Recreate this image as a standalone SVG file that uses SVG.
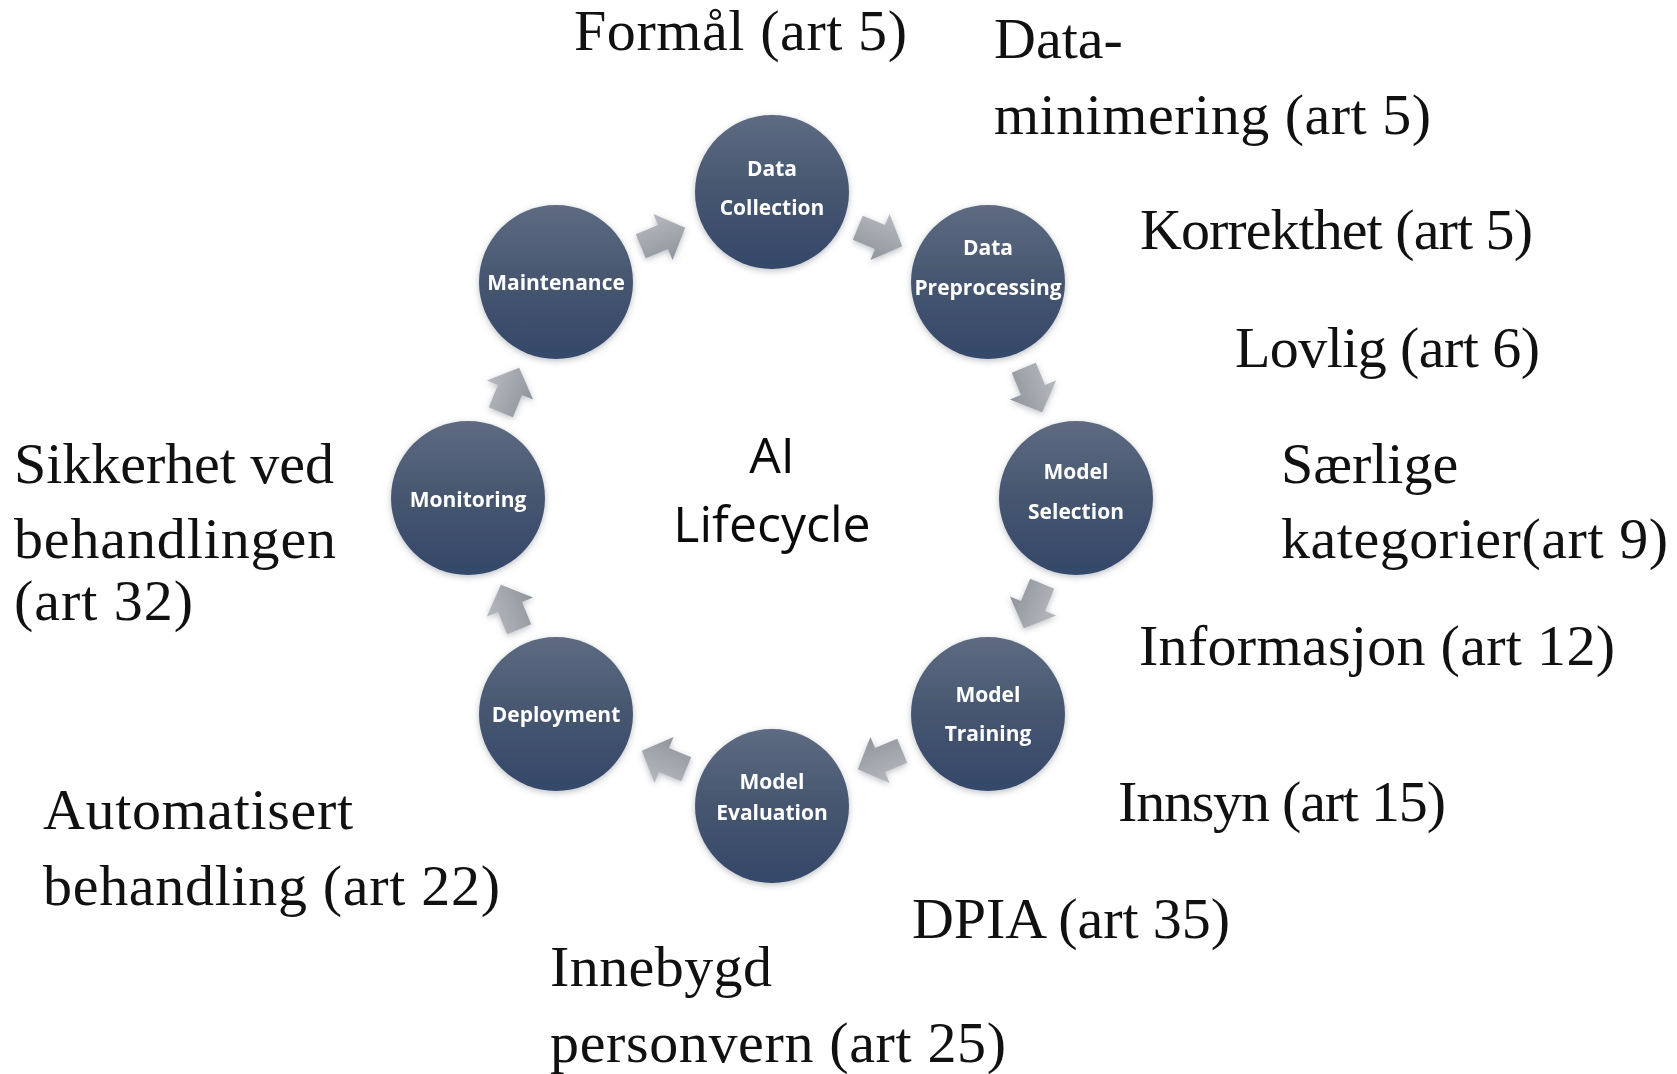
<svg xmlns="http://www.w3.org/2000/svg" width="1677" height="1074" viewBox="0 0 1677 1074">
<defs>
<linearGradient id="cg" x1="0" y1="0" x2="0" y2="1">
<stop offset="0" stop-color="#5e6b82"/>
<stop offset="0.5" stop-color="#46566f"/>
<stop offset="1" stop-color="#34476a"/>
</linearGradient>
<linearGradient id="ag" x1="0" y1="0" x2="0" y2="1">
<stop offset="0" stop-color="#b6b9bf"/>
<stop offset="1" stop-color="#90949c"/>
</linearGradient>
<filter id="sh" x="-20%" y="-20%" width="140%" height="140%">
<feGaussianBlur in="SourceAlpha" stdDeviation="3"/>
<feOffset dx="0" dy="2" result="b"/>
<feFlood flood-color="#6b7280" flood-opacity="0.45"/>
<feComposite in2="b" operator="in"/>
<feMerge><feMergeNode/><feMergeNode in="SourceGraphic"/></feMerge>
</filter>
<polygon id="arr" points="-24,-13 0,-13 0,-25 24,0 0,25 0,13 -24,13" fill="url(#ag)"/>
</defs>
<style>
.node circle{fill:url(#cg);filter:url(#sh)}
.node text{font-family:"Open Sans","Liberation Sans",sans-serif;font-weight:700;font-size:21px;fill:#ffffff;text-anchor:middle}
.lbl{font-family:"Liberation Serif","DejaVu Serif",serif;font-size:58px;fill:#111111}
.title{font-family:"Open Sans","Liberation Sans",sans-serif;font-size:50px;fill:#0a0a0a;text-anchor:middle}
</style>
<rect width="1677" height="1074" fill="#ffffff"/>
<g id="connectors" filter="url(#sh)">
<use href="#arr" transform="translate(663,237) rotate(-22.5)"/>
<use href="#arr" transform="translate(880,237) rotate(22.5)"/>
<use href="#arr" transform="translate(1033,390) rotate(67.5)"/>
<use href="#arr" transform="translate(1033,606) rotate(112.5)"/>
<use href="#arr" transform="translate(880,760) rotate(157.5)"/>
<use href="#arr" transform="translate(664,760) rotate(202.5)"/>
<use href="#arr" transform="translate(510,607) rotate(247.5)"/>
<use href="#arr" transform="translate(510,390) rotate(292.5)"/>
</g>
<g id="n-data-collection" class="node"><circle cx="772" cy="192" r="77"/><text x="772" y="176">Data</text><text x="772" y="215">Collection</text></g>
<g id="n-data-preprocessing" class="node"><circle cx="988" cy="282" r="77"/><text x="988" y="255">Data</text><text x="988" y="295">Preprocessing</text></g>
<g id="n-model-selection" class="node"><circle cx="1076" cy="498" r="77"/><text x="1076" y="479">Model</text><text x="1076" y="519">Selection</text></g>
<g id="n-model-training" class="node"><circle cx="988" cy="714" r="77"/><text x="988" y="702">Model</text><text x="988" y="741">Training</text></g>
<g id="n-model-evaluation" class="node"><circle cx="772" cy="806" r="77"/><text x="772" y="789">Model</text><text x="772" y="820">Evaluation</text></g>
<g id="n-deployment" class="node"><circle cx="556" cy="714" r="77"/><text x="556" y="722">Deployment</text></g>
<g id="n-monitoring" class="node"><circle cx="468" cy="498" r="77"/><text x="468" y="507">Monitoring</text></g>
<g id="n-maintenance" class="node"><circle cx="556" cy="282" r="77"/><text x="556" y="290">Maintenance</text></g>
<g id="center-title"><text class="title" x="772" y="473">AI</text><text class="title" x="772" y="542">Lifecycle</text></g>
<g id="labels">
<text class="lbl" x="574" y="50" textLength="333" lengthAdjust="spacing">Formål (art 5)</text>
<text class="lbl" x="994" y="58">Data-</text>
<text class="lbl" x="994" y="134" textLength="437" lengthAdjust="spacing">minimering (art 5)</text>
<text class="lbl" x="1140" y="249" textLength="393" lengthAdjust="spacing">Korrekthet (art 5)</text>
<text class="lbl" x="1235" y="367" textLength="305" lengthAdjust="spacing">Lovlig (art 6)</text>
<text class="lbl" x="1281" y="483">Særlige</text>
<text class="lbl" x="1281" y="558" textLength="387" lengthAdjust="spacing">kategorier(art 9)</text>
<text class="lbl" x="1139" y="665" textLength="476" lengthAdjust="spacing">Informasjon (art 12)</text>
<text class="lbl" x="1118" y="821" textLength="328" lengthAdjust="spacing">Innsyn (art 15)</text>
<text class="lbl" x="912" y="938" textLength="318" lengthAdjust="spacing">DPIA (art 35)</text>
<text class="lbl" x="550" y="986" textLength="222" lengthAdjust="spacing">Innebygd</text>
<text class="lbl" x="550" y="1062" textLength="456" lengthAdjust="spacing">personvern (art 25)</text>
<text class="lbl" x="14" y="483" textLength="320" lengthAdjust="spacing">Sikkerhet ved</text>
<text class="lbl" x="14" y="558" textLength="322" lengthAdjust="spacing">behandlingen</text>
<text class="lbl" x="14" y="620" textLength="179" lengthAdjust="spacing">(art 32)</text>
<text class="lbl" x="43" y="829" textLength="310" lengthAdjust="spacing">Automatisert</text>
<text class="lbl" x="43" y="905" textLength="457" lengthAdjust="spacing">behandling (art 22)</text>
</g>
</svg>
